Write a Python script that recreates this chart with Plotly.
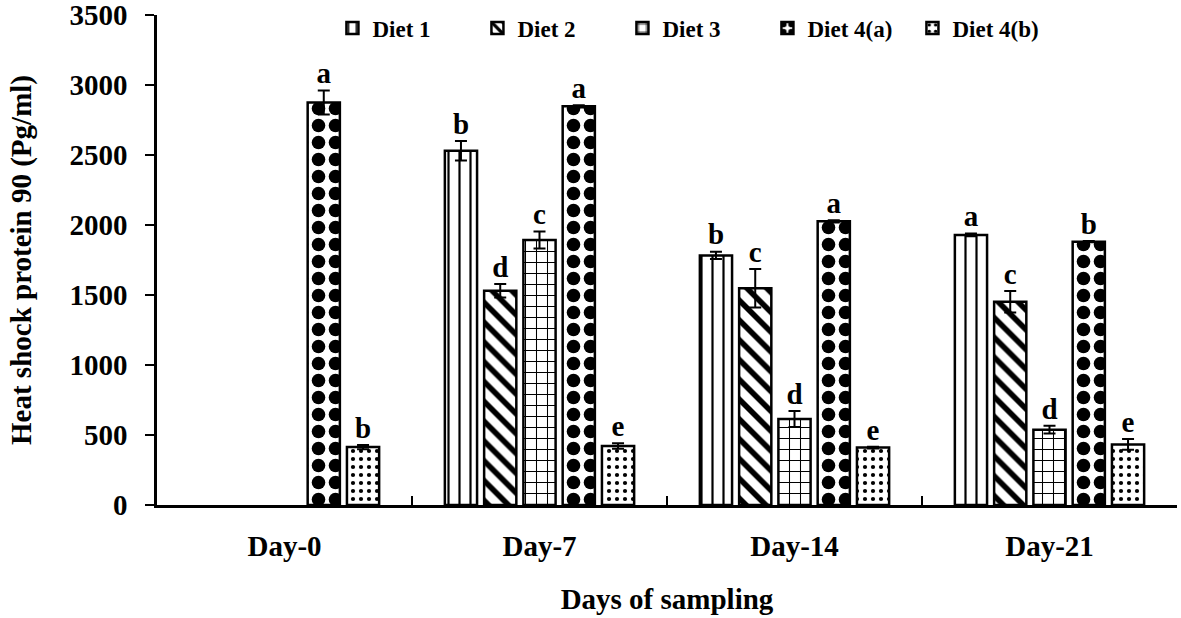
import plotly.graph_objects as go

days = ['Day-0', 'Day-7', 'Day-14', 'Day-21']
diets = ['Diet 1', 'Diet 2', 'Diet 3', 'Diet 4(a)', 'Diet 4(b)']

diet1 = [None, 2530, 1783, 1929]
diet2 = [None, 1531, 1548, 1452]
diet3 = [None, 1893, 614, 538]
diet4a = [2875, 2848, 2026, 1881]
diet4b = [414, 421, 410, 433]

diet1_err = [None, 70, 26, 10]
diet2_err = [None, 48, 138, 77]
diet3_err = [None, 60, 57, 28]
diet4a_err = [85, 8, 8, 4]
diet4b_err = [15, 20, 6, 38]

diet1_letters = ['', 'b', 'b', 'a']
diet2_letters = ['', 'd', 'c', 'c']
diet3_letters = ['', 'c', 'd', 'd']
diet4a_letters = ['a', 'a', 'a', 'b']
diet4b_letters = ['b', 'e', 'e', 'e']

FONT = 'Liberation Serif'

series = [
    (diets[0], diet1, diet1_err, diet1_letters, dict(shape='|', size=11, solidity=0.2)),
    (diets[1], diet2, diet2_err, diet2_letters, dict(shape='\\', size=14, solidity=0.4)),
    (diets[2], diet3, diet3_err, diet3_letters, dict(shape='+', size=11, solidity=0.18)),
    (diets[3], diet4a, diet4a_err, diet4a_letters, dict(shape='.', size=17, solidity=0.5)),
    (diets[4], diet4b, diet4b_err, diet4b_letters, dict(shape='.', size=8, solidity=0.22)),
]

fig = go.Figure()

for i, (name, vals, errs, letters, pat) in enumerate(series):
    fig.add_trace(go.Bar(
        x=days,
        y=vals,
        name=name,
        offsetgroup=str(i),
        marker=dict(
            color='white',
            line=dict(color='black', width=2.5),
            pattern=dict(fgcolor='black', bgcolor='white', fillmode='replace',
                         fgopacity=1, **pat),
        ),
        error_y=dict(type='data', array=errs, color='black', thickness=2, width=6),
    ))

# significance letters above each error bar
for i, (name, vals, errs, letters, pat) in enumerate(series):
    tops = [v + e if v is not None else None for v, e in zip(vals, errs)]
    fig.add_trace(go.Scatter(
        x=days,
        y=tops,
        mode='text',
        text=letters,
        textposition='top center',
        textfont=dict(family=FONT, size=29, color='black', weight='bold'),
        offsetgroup=str(i),
        showlegend=False,
        hoverinfo='skip',
    ))

fig.update_layout(
    width=1181,
    height=618,
    barmode='group',
    scattermode='group',
    bargap=0.23,
    scattergap=0.23,
    bargroupgap=0.18,
    plot_bgcolor='white',
    paper_bgcolor='white',
    margin=dict(l=157, r=4, t=15, b=113),
    font=dict(family=FONT, size=29, color='black', weight='bold'),
    showlegend=True,
    legend=dict(
        orientation='h',
        x=0.172, y=1.017,
        xanchor='left', yanchor='top',
        font=dict(family=FONT, size=23, color='black', weight='bold'),
        itemwidth=30,
        entrywidth=100,
        entrywidthmode='pixels',
        bgcolor='rgba(0,0,0,0)',
        traceorder='normal',
    ),
    xaxis=dict(
        title=dict(text='Days of sampling', standoff=29,
                   font=dict(family=FONT, size=29, weight='bold')),
        showline=True, linecolor='black', linewidth=2.5,
        tickson='boundaries', ticks='inside', ticklen=9, tickwidth=2, tickcolor='black',
        tickfont=dict(family=FONT, size=29, weight='bold'),
        ticklabelstandoff=13,
        showgrid=False, zeroline=False,
        automargin=False,
    ),
    yaxis=dict(
        title=dict(text='Heat shock protein 90 (Pg/ml)', standoff=30,
                   font=dict(family=FONT, size=29, weight='bold')),
        range=[0, 3500], dtick=500,
        showline=True, linecolor='black', linewidth=2.5,
        ticks='outside', ticklen=9, tickwidth=2, tickcolor='black',
        tickfont=dict(family=FONT, size=29, weight='bold'),
        ticklabelstandoff=12,
        ticklabeloverflow='allow',
        showgrid=False, zeroline=False,
        automargin=False,
    ),
)

# drop the default 8px body margin so the figure fills the window exactly
fig.write_html('out.html',
               config={'displayModeBar': False},
               post_script="document.body.style.margin='0';")
